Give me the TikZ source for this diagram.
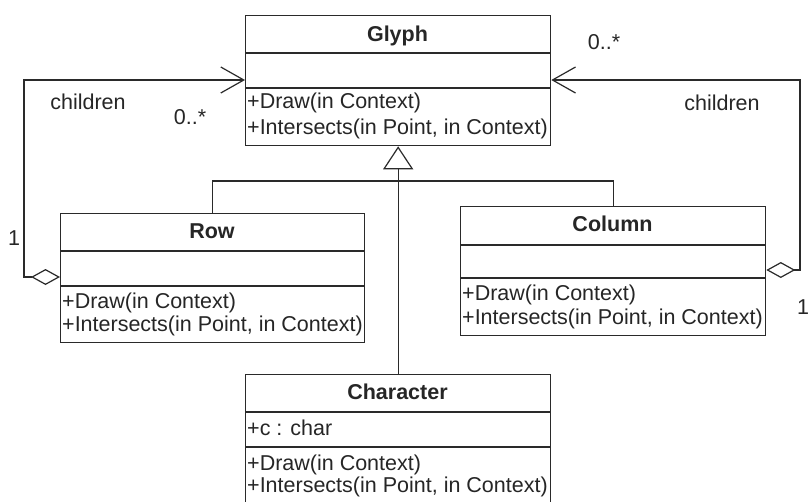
\documentclass[tikz,border=0pt]{standalone}
\usepackage{fontspec}
\setmainfont{Liberation Sans}
\usetikzlibrary{arrows.meta}
\definecolor{linec}{HTML}{2A2A2A}
\definecolor{textc}{HTML}{262626}
\begin{document}
\begin{tikzpicture}[x=1pt,y=-1pt,
  classbox/.style={draw=linec, line width=1.3pt, rectangle, inner sep=0pt, anchor=north west},
  sepline/.style={draw=linec, line width=1.3pt},
  member/.style={anchor=west, inner sep=0pt, text height=15.4pt, text depth=0pt,
    font=\fontsize{21.5}{24}\selectfont, text=textc},
  ctitle/.style={anchor=center, inner sep=0pt, text height=15.4pt, text depth=0pt,
    font=\fontsize{21.5}{24}\selectfont\bfseries, text=textc},
  lbl/.style={anchor=center, inner sep=0pt, text height=15.4pt, text depth=0pt,
    font=\fontsize{21.5}{24}\selectfont, text=textc},
  conn/.style={draw=linec, line width=1.2pt},
  aggr/.style={conn, {Diamond[open,length=29pt,width=16pt,line width=1.2pt]}-{Straight Barb[length=23pt,width=26pt,line width=1.2pt]}},
  inh/.style={conn, -{Triangle[open,length=23pt,width=30pt,line width=1.2pt]}}
]
\useasboundingbox (0,0) rectangle (809,501);
\fill[white] (0,0) rectangle (809,501);
\clip (0,0) rectangle (809,501);

% Glyph
\node[classbox, minimum width=305pt, minimum height=130pt] (glyph) at (245,15) {};
\draw[sepline] (245,53) -- (550,53);
\draw[sepline] (245,88) -- (550,88);
\node[ctitle] (glyphT) at (397.5,34) {Glyph};
\node[member] (glyphM1) at (247,101) {+Draw(in Context)};
\node[member] (glyphM2) at (247,127) {+Intersects(in Point, in Context)};

% Row
\node[classbox, minimum width=304pt, minimum height=129pt] (row) at (60,213) {};
\draw[sepline] (60,251) -- (364,251);
\draw[sepline] (60,286) -- (364,286);
\node[ctitle] (rowT) at (212,231) {Row};
\node[member] (rowM1) at (62,301) {+Draw(in Context)};
\node[member] (rowM2) at (62,324) {+Intersects(in Point, in Context)};

% Column
\node[classbox, minimum width=305pt, minimum height=129pt] (col) at (460,206) {};
\draw[sepline] (460,245) -- (765,245);
\draw[sepline] (460,278) -- (765,278);
\node[ctitle] (colT) at (612.5,224) {Column};
\node[member] (colM1) at (462,293) {+Draw(in Context)};
\node[member] (colM2) at (462,317) {+Intersects(in Point, in Context)};

% Character
\node[classbox, minimum width=305pt, minimum height=150pt] (char) at (245,374) {};
\draw[sepline] (245,412) -- (550,412);
\draw[sepline] (245,447) -- (550,447);
\node[ctitle] (charT) at (397.5,392) {Character};
\node[member] (charA1) at (247,428) {+c : char};
\node[member] (charM1) at (247,463) {+Draw(in Context)};
\node[member] (charM2) at (247,485) {+Intersects(in Point, in Context)};

% generalization
\coordinate (hb) at (397.5,181);
\draw[inh] (char.north) -- (glyph.south);
\draw[conn] (row.north) |- (hb) -| (col.north);

% aggregations
\coordinate (lvl) at (0,80);
\coordinate (rd) at (0,277);
\coordinate (cd) at (0,270);
\coordinate (lbend) at (24,80);
\coordinate (rbend) at (800,80);
\draw[aggr] (row.west |- rd) -| (lbend) -- (glyph.west |- lvl);
\draw[aggr] (col.east |- cd) -| (rbend) -- (glyph.east |- lvl);

% labels
\node[lbl] (lch) at (88,102) {children};
\node[lbl] (lmul) at (190,117) {0..*};
\node[lbl] (lone) at (14,238) {1};
\node[lbl] (rmul) at (604,42) {0..*};
\node[lbl] (rch) at (722,103) {children};
\node[lbl] (rone) at (803,307) {1};
\end{tikzpicture}
\end{document}
